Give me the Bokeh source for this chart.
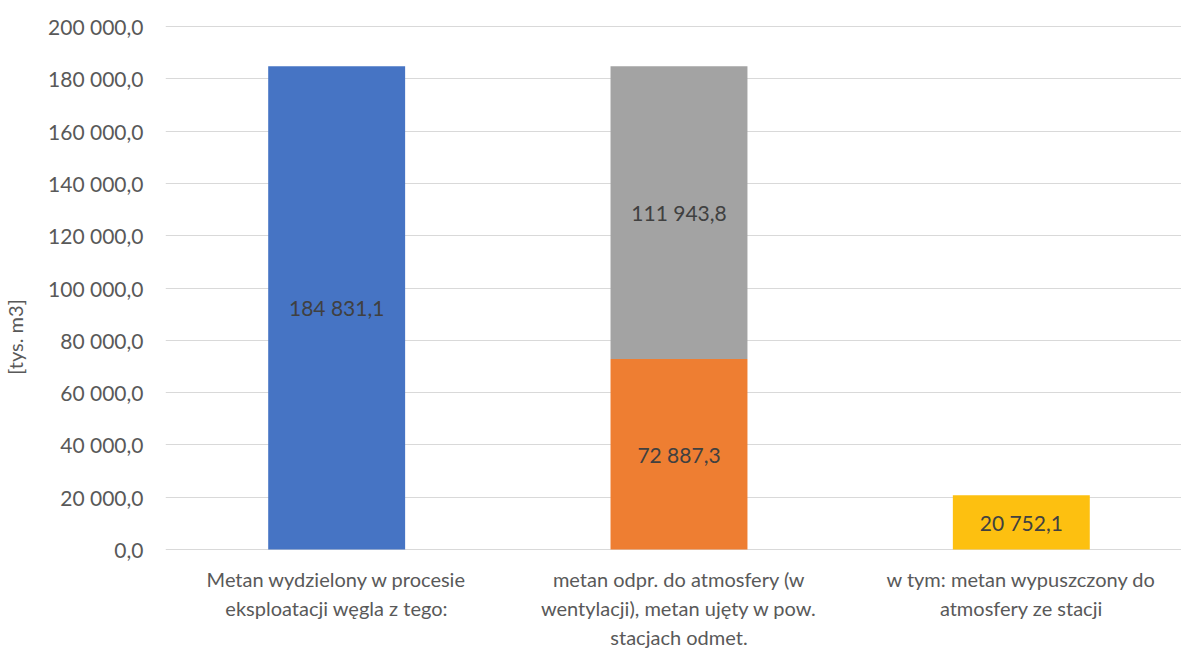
from bokeh.plotting import figure
from bokeh.models import Range1d, FixedTicker, ColumnDataSource
from bokeh.core.properties import value
from bokeh.embed import file_html
from bokeh.resources import INLINE

# ---- data ----
categories = [
    "Metan wydzielony w procesie\neksploatacji węgla z tego:",
    "metan odpr. do atmosfery (w\nwentylacji), metan ujęty w pow.\nstacjach odmet.",
    "w tym: metan wypuszczony do\natmosfery ze stacji",
]
total_emitted = [184831.1, 0.0, 0.0]          # blue series
vented = [0.0, 72887.3, 0.0]                  # orange series (bottom)
captured = [0.0, 111943.8, 0.0]               # gray series (top)
released_station = [0.0, 0.0, 20752.1]        # yellow series
y_ticks = [0, 20000, 40000, 60000, 80000, 100000, 120000, 140000, 160000, 180000, 200000]
y_label = "[tys. m3]"

colors = {"blue": "#4674C4", "orange": "#EE7E32", "gray": "#A3A3A3", "yellow": "#FDC010"}

FONT = "Lato"
Y_MAX = 200000

W, H = 1181, 649
LEFT, TOP = 163, 24
PX_AXIS = 523            # pixels between 0 and Y_MAX
U = Y_MAX / PX_AXIS      # data units per pixel
y_hi = Y_MAX + 2 * U
y_lo = y_hi - (H - TOP) * U


def fmt(v, dec=1):
    s = f"{v:,.{dec}f}"
    return s.replace(",", " ").replace(".", ",")


xs = [i + 0.5 for i in range(len(categories))]

frame_w = W - LEFT
p = figure(width=W, height=H, output_backend="svg", toolbar_location=None,
           x_range=Range1d(0, frame_w / 343), y_range=Range1d(y_lo, y_hi),
           min_border_left=LEFT, min_border_right=0, min_border_top=TOP,
           min_border_bottom=0)
p.outline_line_color = None
p.background_fill_color = "white"
p.border_fill_color = "white"

bw = 0.40
series = [
    (total_emitted, [0, 0, 0], colors["blue"]),
    (vented, [0, 0, 0], colors["orange"]),
    (captured, vented, colors["gray"]),
    (released_station, [0, 0, 0], colors["yellow"]),
]
lx, ly, lt = [], [], []
for vals, base, col in series:
    idx = [i for i, v in enumerate(vals) if v > 0]
    src = ColumnDataSource(dict(
        x=[xs[i] for i in idx],
        bottom=[base[i] for i in idx],
        top=[base[i] + vals[i] for i in idx],
    ))
    p.vbar(x="x", bottom="bottom", top="top", width=bw, source=src,
           fill_color=col, line_color=None)
    for i in idx:
        lx.append(xs[i])
        ly.append(base[i] + vals[i] / 2)
        lt.append(fmt(vals[i]))

p.text(x=lx, y=ly, text=lt, text_align="center", text_baseline="middle",
       text_font=value(FONT), text_font_size="21px", text_color="#404040")

# y axis
p.yaxis.ticker = FixedTicker(ticks=y_ticks)
p.yaxis.major_label_overrides = {t: fmt(t) for t in y_ticks}
p.yaxis.axis_line_color = None
p.yaxis.major_tick_line_color = None
p.yaxis.minor_tick_line_color = None
p.yaxis.major_tick_out = 0
p.yaxis.major_tick_in = 0
p.yaxis.minor_tick_out = 0
p.yaxis.major_label_text_font = FONT
p.yaxis.major_label_text_font_size = "21px"
p.yaxis.major_label_text_color = "#595959"
p.yaxis.major_label_standoff = 22
p.yaxis.axis_label = y_label
p.yaxis.axis_label_text_font = FONT
p.yaxis.axis_label_text_font_size = "20px"
p.yaxis.axis_label_text_font_style = "normal"
p.yaxis.axis_label_text_color = "#595959"
p.yaxis.axis_label_standoff = 18

# category labels below the zero line (inside the extended frame)
p.xaxis.visible = False
p.text(x=xs, y=[-17 * U] * len(xs), text=categories, text_align="center",
       text_baseline="top", text_font=value(FONT), text_font_size="20px",
       text_color="#595959", text_line_height=1.21)

p.xgrid.grid_line_color = None
p.ygrid.grid_line_color = "#D9D9D9"
p.ygrid.grid_line_width = 1

open("out.html", "w").write(file_html(p, INLINE))
